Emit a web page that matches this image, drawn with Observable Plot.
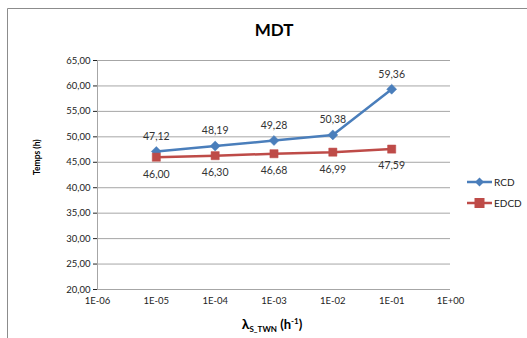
<!DOCTYPE html>
<html><head><meta charset="utf-8">
<script src="https://cdn.jsdelivr.net/npm/d3@7"></script>
<script src="https://cdn.jsdelivr.net/npm/@observablehq/plot@0.6"></script>
<style>body{margin:0;background:#fff}svg{display:block}</style>
</head><body><div id="chart"></div>
<script>
const lambdas = [1e-5, 1e-4, 1e-3, 1e-2, 1e-1];
const rcd = [47.12, 48.19, 49.28, 50.38, 59.36];
const edcd = [46.00, 46.30, 46.68, 46.99, 47.59];
const xTicks = [1e-6, 1e-5, 1e-4, 1e-3, 1e-2, 1e-1, 1];
const xTickLabels = ["1E-06","1E-05","1E-04","1E-03","1E-02","1E-01","1E+00"];
const yTicks = [20,25,30,35,40,45,50,55,60,65];
const seriesNames = ["RCD","EDCD"];
const colors = ["#4a7ebb","#be4b48"];

const fmt = v => v.toFixed(2).replace(".", ",");
const rows = [];
lambdas.forEach((l,i)=>{ rows.push({s:"RCD",x:l,y:rcd[i]}); rows.push({s:"EDCD",x:l,y:edcd[i]}); });
const R = rows.filter(d=>d.s==="RCD"), E = rows.filter(d=>d.s==="EDCD");
const font = "Lato, 'Open Sans', sans-serif";

const plot = Plot.plot({
  width: 527, height: 338,
  marginLeft: 97, marginRight: 77, marginTop: 60, marginBottom: 49,
  style: {fontFamily: font, fontSize: "9.5px", color: "#222", background: "#fff"},
  x: {type: "log", domain: [1e-6, 1], ticks: xTicks, tickFormat: (d)=> xTickLabels[xTicks.findIndex(t=>Math.abs(Math.log10(t)-Math.log10(d))<1e-6)], tickSize: 0, tickPadding: 8, label: null},
  y: {domain: [20, 65], ticks: yTicks, tickFormat: fmt, tickSize: 4, tickPadding: 3, label: null},
  marks: [
    Plot.ruleY(yTicks, {stroke: "#a6a6a6", strokeWidth: 1}),
    Plot.ruleX([1e-6], {stroke: "#a6a6a6", strokeWidth: 1}),
    Plot.line(R, {x:"x", y:"y", stroke: colors[0], strokeWidth: 2.5}),
    Plot.line(E, {x:"x", y:"y", stroke: colors[1], strokeWidth: 2.5}),
    Plot.dot(R, {x:"x", y:"y", symbol: "diamond2", r: 4.5, fill: colors[0], stroke: colors[0], strokeWidth: 0.5}),
    Plot.dot(E, {x:"x", y:"y", symbol: "square2", r: 5.2, fill: colors[1], stroke: colors[1], strokeWidth: 0.5}),
    Plot.text(R, {x:"x", y:"y", text: d=>fmt(d.y), dy: -15, fontSize: 10.5, fill: "#333"}),
    Plot.text(E, {x:"x", y:"y", text: d=>fmt(d.y), dy: 17, fontSize: 10.5, fill: "#333"}),
    Plot.text(["MDT"], {frameAnchor: "top", dy: -37, fontSize: 17, fontWeight: "bold", fill: "#000", dx: 0}),
    Plot.text(["Temps (h)"], {frameAnchor: "left", dx: -60, dy: 0, rotate: -90, fontSize: 8.5, fontWeight: "bold", fill: "#000"})
  ]
});
document.getElementById("chart").appendChild(plot);

const svg = d3.select(plot);
// outer chart border
svg.append("path").attr("d","M7.5,338 V8.5 H527").attr("fill","none").attr("stroke","#8c8c8c").attr("stroke-width",1);
// x axis title
const xt = svg.append("text").attr("x", 272).attr("y", 329).attr("text-anchor","middle")
  .attr("font-family", font).attr("font-weight","bold").attr("fill","#000");
xt.append("tspan").attr("font-size","14px").text("λ");
xt.append("tspan").attr("font-size","8px").attr("dy", 3).text("S_TWN");
xt.append("tspan").attr("font-size","13px").attr("dy", -3).text(" (h");
xt.append("tspan").attr("font-size","8px").attr("dy", -5).text("-1");
xt.append("tspan").attr("font-size","13px").attr("dy", 5).text(")");
// legend
const lg = svg.append("g").attr("font-family", font).attr("font-size","10px").attr("text-anchor","start");
seriesNames.forEach((n,i)=>{
  const y = 182 + i*21;
  lg.append("line").attr("x1",467).attr("x2",492).attr("y1",y).attr("y2",y).attr("stroke",colors[i]).attr("stroke-width",2.5);
  if (i===0) lg.append("path").attr("d",`M479.5,${y-4.5} L484,${y} L479.5,${y+4.5} L475,${y} Z`).attr("fill",colors[i]);
  else lg.append("rect").attr("x",474.5).attr("y",y-5).attr("width",10).attr("height",10).attr("fill",colors[i]);
  lg.append("text").attr("x",494).attr("y",y).attr("dy","0.35em").attr("fill","#222").text(n);
});
</script>
</body></html>
